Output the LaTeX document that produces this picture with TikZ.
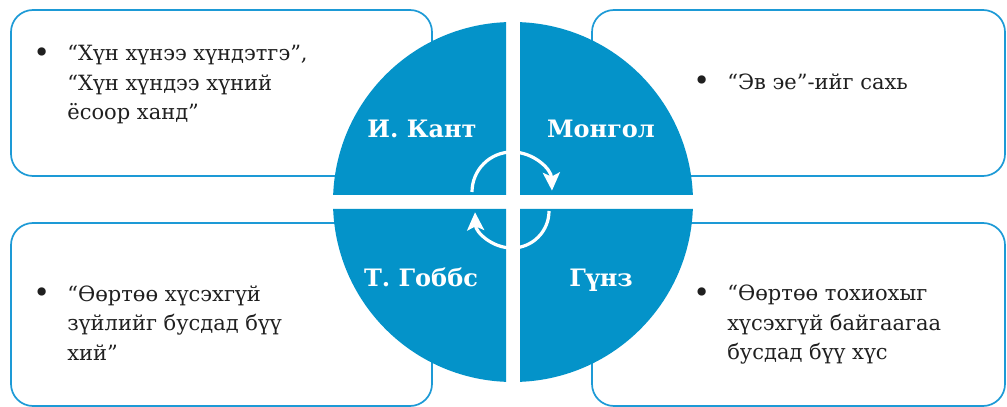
\documentclass[tikz,border=0pt]{standalone}
\usepackage{fontspec}
\setmainfont{DejaVu Serif}
\usepackage{graphicx}
\usepackage{tikz}
\usetikzlibrary{positioning,arrows.meta}

\definecolor{wheelblue}{HTML}{0493C9}
\definecolor{cardline}{HTML}{1D9AD6}

\newcommand\dotitem{\makebox[32pt][l]{\hspace*{-2pt}\raisebox{-1.2pt}{\scalebox{1.35}{\textbullet}}}}
\newcommand\dotskip{\hspace*{32pt}}

\begin{document}
\begin{tikzpicture}[x=1pt, y=1pt,
        card/.style={draw=cardline, line width=1.7pt, rounded corners=22pt, inner sep=0pt},
        note/.style={anchor=north west, align=left, inner sep=0pt, text=black!88, font=\fontsize{21}{29.5}\selectfont},
        sector/.style={anchor=base, inner sep=0pt, text=white, font=\fontsize{24}{28}\selectfont\bfseries},
        turn/.style={draw=white, line width=3.2pt, -{Stealth[length=18pt, width=17pt, inset=4pt]}}
    ]
        \useasboundingbox (0,0) rectangle (1007,407);

        % the four cards behind the wheel
        \node[card, minimum width=421pt, minimum height=166pt] (kantbox) at (221.5,314) {};
        \node[card, minimum width=413pt, minimum height=166pt] (mongolbox) at (798.5,314) {};
        \node[card, minimum width=421pt, minimum height=183pt] (gobbsbox) at (221.5,92.5) {};
        \node[card, minimum width=413pt, minimum height=183pt] (gunzbox) at (798.5,92.5) {};

        % wheel
        \coordinate (hub) at (513,205);
        \foreach \a in {0,90,180,270}
            \fill[wheelblue, shift={(513,205)}, rotate=\a] (7,7) -- (2.23:180) arc[start angle=2.23, end angle=87.77, radius=180] -- cycle;

        \node[sector] (kant) at ([shift={(-91,64)}]hub) {И. Кант};
        \node[sector] (mongol) at ([shift={(88,64)}]hub) {Монгол};
        \node[sector] (gobbs) at ([shift={(-92,-85)}]hub) {Т. Гоббс};
        \node[sector] (gunz) at ([shift={(88,-85)}]hub) {Гүнз};

        \draw[turn] ([shift={(-41,10)}]hub) arc[start angle=180, end angle=2, radius=40];
        \draw[turn] ([shift={(36,-9)}]hub) arc[start angle=0, end angle=-178, radius=37];

        % notes
        \node[note] (kantnote) at ([xshift=25pt, yshift=-36pt]kantbox.north west)
            {\dotitem“Хүн хүнээ хүндэтгэ”,\\
             \dotskip“Хүн хүндээ хүний\\
             \dotskip ёсоор ханд”};
        \node[note] (mongolnote) at ([xshift=104pt, yshift=-64pt]mongolbox.north west)
            {\dotitem“Эв эе”-ийг сахь};
        \node[note] (gobbsnote) at ([xshift=25pt, yshift=-63pt]gobbsbox.north west)
            {\dotitem“Өөртөө хүсэхгүй\\
             \dotskip зүйлийг бусдад бүү\\
             \dotskip хий”};
        \node[note] (gunznote) at ([xshift=104pt, yshift=-63pt]gunzbox.north west)
            {\dotitem“Өөртөө тохиохыг\\
             \dotskip хүсэхгүй байгаагаа\\
             \dotskip бусдад бүү хүс};
    \end{tikzpicture}
\end{document}
